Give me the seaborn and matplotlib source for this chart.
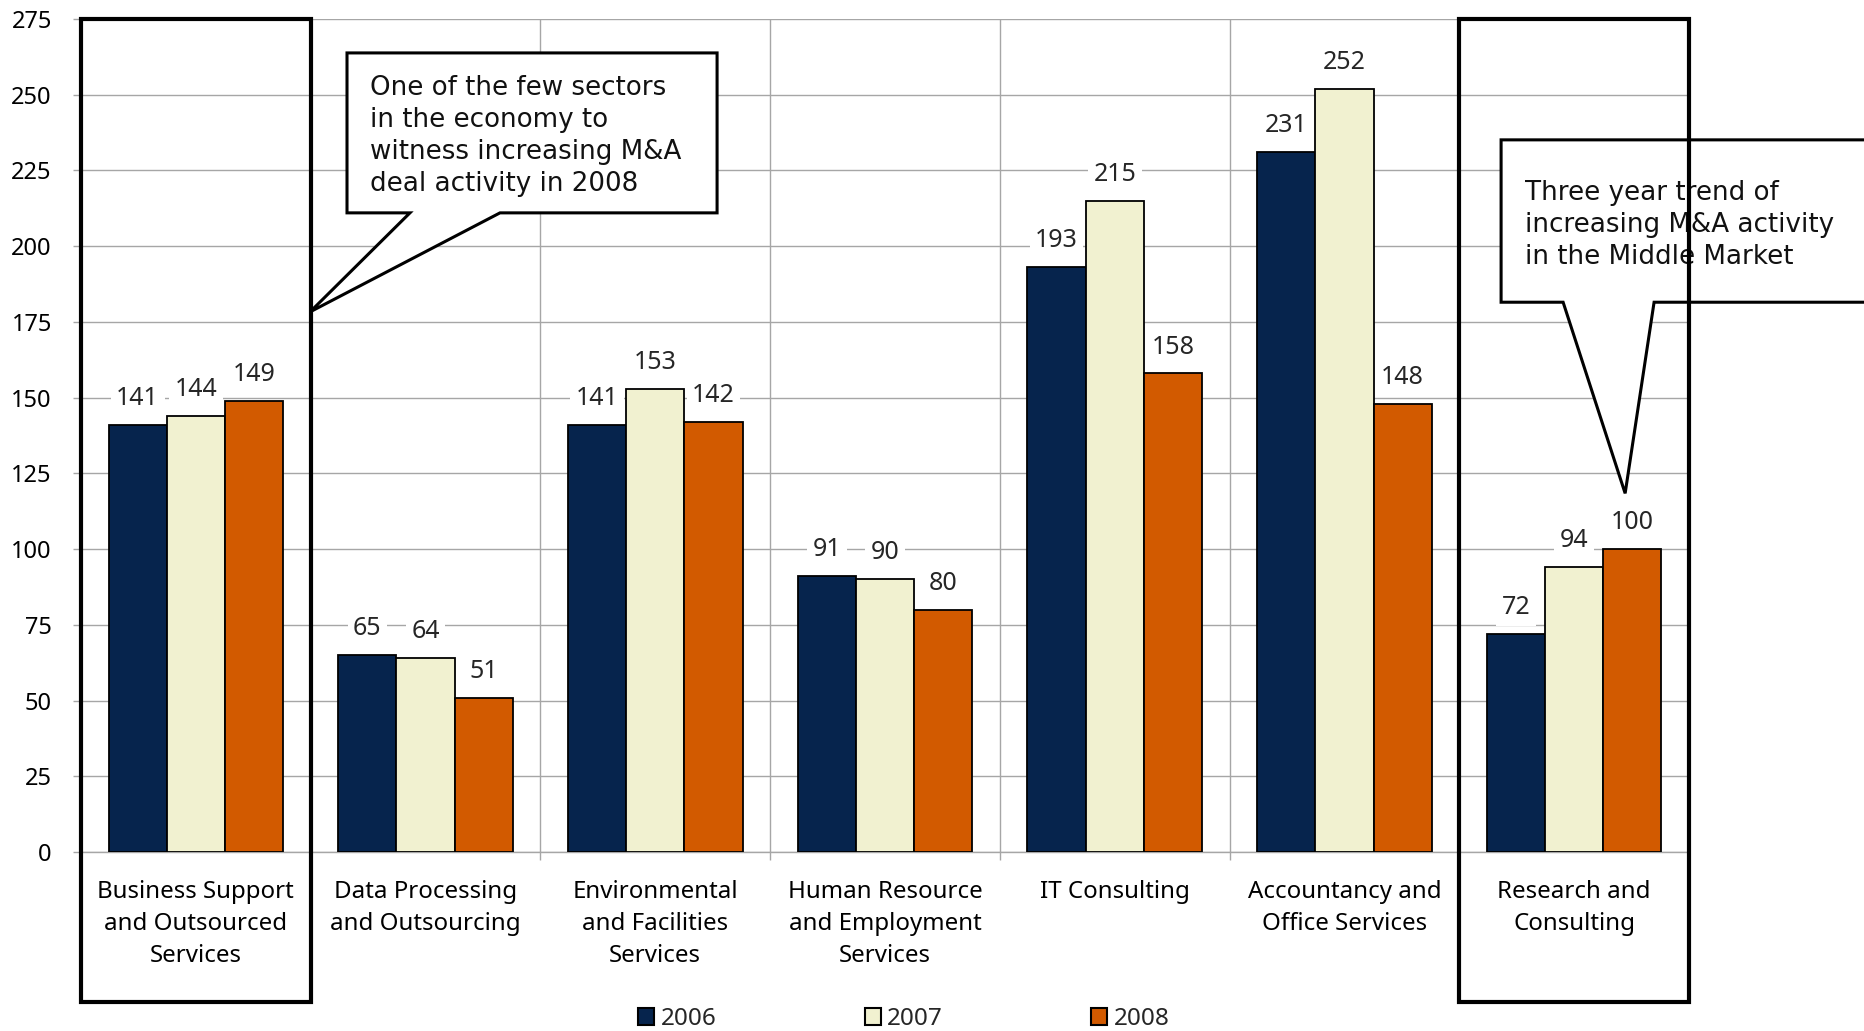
import numpy as np
import pandas as pd
import matplotlib
matplotlib.use("Agg")
import matplotlib.pyplot as plt
from matplotlib.patches import Polygon, Rectangle, Patch
from matplotlib.ticker import FixedLocator
import seaborn as sns

# ---- data -------------------------------------------------------------
sectors = [
    "Business Support\nand Outsourced\nServices",
    "Data Processing\nand Outsourcing",
    "Environmental\nand Facilities\nServices",
    "Human Resource\nand Employment\nServices",
    "IT Consulting",
    "Accountancy and\nOffice Services",
    "Research and\nConsulting",
]
years = ["2006", "2007", "2008"]
deals_2006 = [141, 65, 141, 91, 193, 231, 72]
deals_2007 = [144, 64, 153, 90, 215, 252, 94]
deals_2008 = [149, 51, 142, 80, 158, 148, 100]
y_ticks = [0, 25, 50, 75, 100, 125, 150, 175, 200, 225, 250, 275]

year_colors = ["#06244D", "#F1F1D0", "#D25A00"]
highlighted = [0, 6]

note_left = ("One of the few sectors\nin the economy to\n"
             "witness increasing M&A\ndeal activity in 2008")
note_right = ("Three year trend of\nincreasing M&A activity\n"
              "in the Middle Market")

df = pd.DataFrame({
    "sector": sectors * 3,
    "year": [y for y in years for _ in sectors],
    "deals": deals_2006 + deals_2007 + deals_2008,
})

# ---- figure -----------------------------------------------------------
sns.set_theme(style="white")
plt.rcParams["font.family"] = ["Noto Sans", "DejaVu Sans"]

fig = plt.figure(figsize=(18.64, 10.31), dpi=100)
ax = fig.add_axes([81 / 1864, 1 - 852 / 1031, 1608 / 1864, 833 / 1031])

sns.barplot(data=df, x="sector", y="deals", hue="year", order=sectors,
            hue_order=years, palette=year_colors, saturation=1, width=0.76,
            edgecolor="black", linewidth=1.3, legend=False, ax=ax, zorder=3)

ax.set_xlim(-0.5, len(sectors) - 0.5)
ax.set_ylim(0, y_ticks[-1])
ax.yaxis.set_major_locator(FixedLocator(y_ticks))
ax.xaxis.set_minor_locator(FixedLocator(np.arange(-0.5, len(sectors), 1.0)))
ax.set_xlabel("")
ax.set_ylabel("")

grid_c = "#A6A6A6"
ax.set_axisbelow(True)
ax.yaxis.grid(True, color=grid_c, lw=1.0)
ax.xaxis.grid(True, which="minor", color=grid_c, lw=1.0)
ax.xaxis.grid(False, which="major")
for side in ["left", "right", "bottom"]:
    ax.spines[side].set_color(grid_c)
    ax.spines[side].set_linewidth(1.0)
ax.spines["top"].set_visible(False)

ax.tick_params(axis="y", length=6, width=1, color=grid_c, pad=15,
               labelsize=17, labelcolor="black", left=True)
ax.tick_params(axis="x", which="major", length=0, pad=20, labelsize=17.3,
               labelcolor="black")
ax.tick_params(axis="x", which="minor", length=6, width=1, color=grid_c,
               bottom=True)
for lab in ax.get_xticklabels():
    lab.set_linespacing(1.45)

# value labels above every bar
for cont in ax.containers:
    ax.bar_label(cont, fmt="{:.0f}", padding=10, fontsize=18,
                 bbox=dict(facecolor="white", edgecolor="none", pad=4),
                 zorder=4)

# frames around highlighted sectors
frame_bottom = -49.5
for i in highlighted:
    ax.add_patch(Rectangle((i - 0.5, frame_bottom), 1.0,
                           y_ticks[-1] - frame_bottom, fill=False,
                           ec="black", lw=3.0, clip_on=False, zorder=8))

# speech-bubble callouts
bubble_left = [(0.658, 263.8), (2.269, 263.8), (2.269, 211.0), (1.324, 211.0),
               (0.497, 178.3), (0.932, 211.0), (0.658, 211.0)]
bubble_right = [(5.682, 235.1), (8.5, 235.1), (8.5, 181.5), (6.348, 181.5),
                (6.222, 118.4), (5.952, 181.5), (5.682, 181.5)]
for pts in (bubble_left, bubble_right):
    ax.add_patch(Polygon(pts, closed=True, fc="white", ec="black", lw=2.2,
                         joinstyle="miter", clip_on=False, zorder=6))

note_style = dict(fontsize=18.8, family="DejaVu Sans", ha="left", va="top",
                  linespacing=1.30, color="#111111", zorder=7)
ax.text(0.758, 256.5, note_left, **note_style)
ax.text(5.786, 221.9, note_right, **note_style)

# legend
handles = [Patch(facecolor=c, edgecolor="black", lw=1.5) for c in year_colors]
fig.legend(handles, years, loc="center",
           bbox_to_anchor=(904 / 1864, 1 - 1019 / 1031), ncol=3,
           frameon=False, fontsize=17.5, handlelength=0.66, handleheight=0.66,
           handletextpad=0.26, columnspacing=6.1, borderpad=0)

fig.savefig("out.png", dpi=100)
